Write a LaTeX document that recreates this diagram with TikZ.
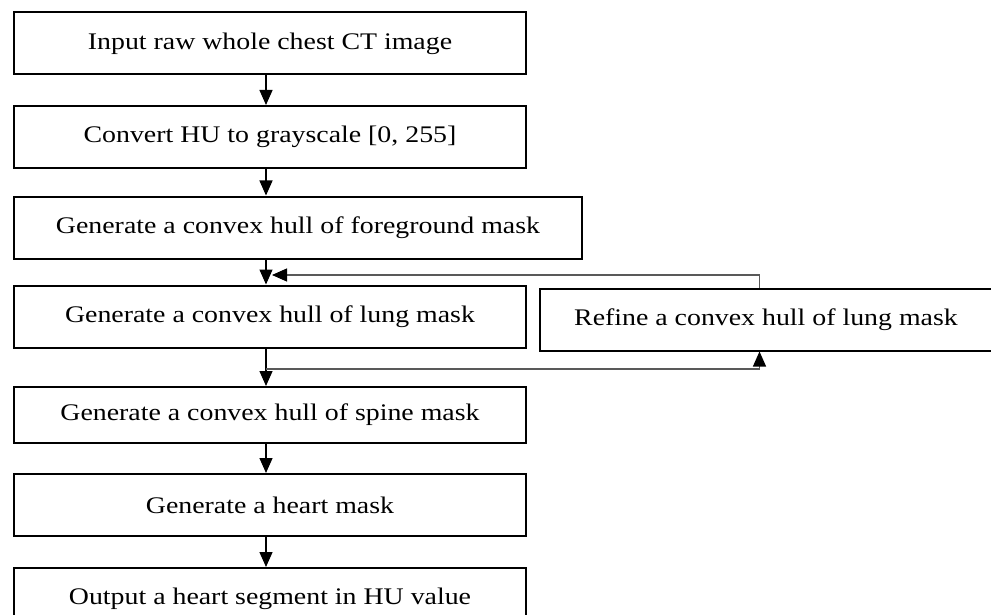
\documentclass[tikz,border=0pt]{standalone}
\usepackage{fontspec}
\setmainfont{Liberation Serif}
\usepackage{graphicx}
\usetikzlibrary{arrows.meta}

% wide serif labels used in every box
\newcommand{\boxtext}[1]{\scalebox{1.17}[1]{\fontsize{23.8}{27}\selectfont #1}}

\tikzset{
  stepbox/.style={draw=black, line width=2pt, fill=white, inner sep=0pt,
    minimum height=62pt, align=center},
  flow/.style={draw=black, line width=1.3pt,
    -{Triangle[width=13pt,length=15pt]}},
  looparrow/.style={draw=black!65, line width=1.1pt,
    -{Triangle[width=13pt,length=15pt,color=black]}},
}

\begin{document}
\begin{tikzpicture}[x=1pt, y=-1pt]
  \useasboundingbox (0,0) rectangle (991,615);
  \clip (0,0) rectangle (991,615);

  % main column of processing steps
  \node[stepbox, minimum width=512pt] (b1) at (270,43.5) {\boxtext{Input raw whole chest CT image}};
  \node[stepbox, minimum width=512pt] (b2) at (270,137) {\boxtext{Convert HU to grayscale [0, 255]}};
  \node[stepbox, minimum width=568pt] (b3) at (298,227.5) {\boxtext{Generate a convex hull of foreground mask}};
  \node[stepbox, minimum width=512pt] (b4) at (270,316.5) {\boxtext{Generate a convex hull of lung mask}};
  \node[stepbox, minimum width=512pt, minimum height=56pt] (b5) at (270,415) {\boxtext{Generate a convex hull of spine mask}};
  \node[stepbox, minimum width=512pt] (b6) at (270,505) {\boxtext{Generate a heart mask}};
  \node[stepbox, minimum width=512pt] (b7) at (270,599) {\boxtext{Output a heart segment in HU value}};

  % refinement step beside the lung mask
  \node[stepbox, minimum width=452pt] (r) at (766,319.5) {\boxtext{Refine a convex hull of lung mask}};

  % helper coordinates for the arrow column and the refinement loop
  \coordinate (ax) at (266,0);
  \coordinate (rx) at (759.5,0);
  \coordinate (top) at (272,275);
  \coordinate (bot) at (266,369);

  % straight flow
  \draw[flow] (b1.south -| ax) -- (b2.north -| ax);
  \draw[flow] (b2.south -| ax) -- (b3.north -| ax);
  \draw[flow] (b3.south -| ax) -- (b4.north -| ax);
  \draw[line width=1.3pt] (b4.south -| ax) -- (bot);
  \draw[flow] (bot) -- (b5.north -| ax);
  \draw[flow] (b5.south -| ax) -- (b6.north -| ax);
  \draw[flow] (b6.south -| ax) -- (b7.north -| ax);

  % refinement loop
  \draw[looparrow] (bot) -| (r.south -| rx);
  \draw[looparrow] (r.north -| rx) |- (top);
\end{tikzpicture}
\end{document}
